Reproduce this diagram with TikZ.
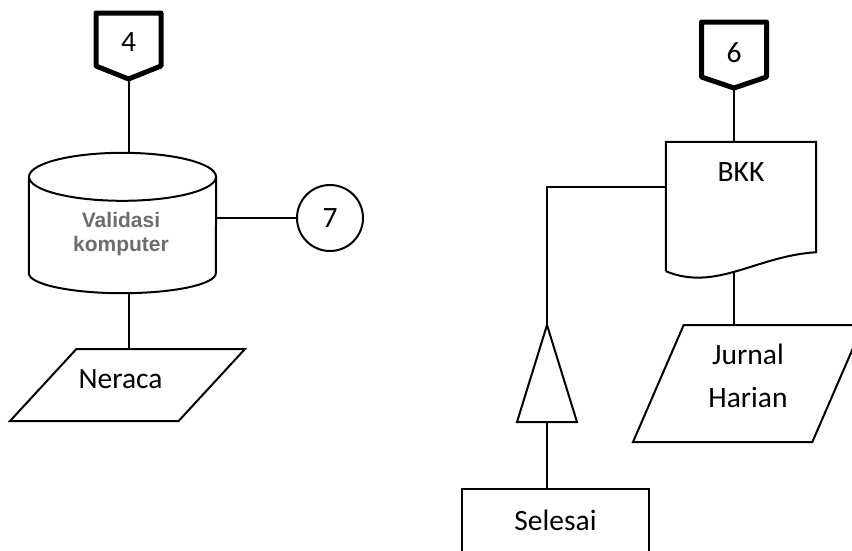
\documentclass[tikz,border=0pt]{standalone}
\usepackage{fontspec}
\setmainfont{Carlito}
\newfontfamily\arialfont{Liberation Sans}
\usetikzlibrary{shapes.geometric,calc}
\definecolor{FlowGray}{HTML}{6D6D6D}

\tikzset{
  flowline/.style={line width=2pt},
  offpage/.style={line width=5pt, line join=round},
  iobox/.style={flowline, draw, trapezium, trapezium stretches=true, inner sep=2pt},
  conncircle/.style={flowline, draw, circle, minimum size=66pt, inner sep=0pt},
  procbox/.style={flowline, draw, minimum width=187pt, inner sep=0pt},
  dbtext/.style={font=\arialfont\bfseries\fontsize{21}{24.5}\selectfont, text=FlowGray, align=center}
}

\begin{document}
\begin{tikzpicture}[x=1pt,y=-1pt,font=\fontsize{29.5}{36}\selectfont]
  \useasboundingbox (0,0) rectangle (852,550);

  % left column: connector 4, database, output
  \node[inner sep=0pt] (c4) at (128.5,42.5) {4};
  \draw[offpage] (c4) ++(-32.5,-29.5) -- ++(65,0) -- ++(0,53)
    -- ++(-32.5,13) coordinate (c4tip) -- ++(-32.5,-13) -- cycle;

  \node[minimum width=187pt, minimum height=140pt, inner sep=0pt] (db) at (122.5,223) {};
  \draw[flowline] ([yshift=-24pt]db.north) ellipse [x radius=93.5pt, y radius=24pt];
  \draw[flowline] ([yshift=-24pt]db.north west) -- ([yshift=20pt]db.south west)
    arc[start angle=180, end angle=360, x radius=93.5pt, y radius=20pt]
    -- ([yshift=-24pt]db.north east);
  \node[dbtext] (dblab) at (121,234) {Validasi\\komputer};

  \node[conncircle] (c7) at (330,218) {7};

  \node[iobox, trapezium left angle=57, trapezium right angle=123,
        minimum width=235pt, minimum height=72pt] (ner) at (127.5,385) {};
  \node (nerlab) at ([xshift=-7pt,yshift=6pt]ner.center) {Neraca};

  \draw[flowline] (c4tip) -- (c4tip |- db.north);
  \draw[flowline] (c7.west -| db.east) -- (c7.west);
  \draw[flowline] (db.south -| c4tip) -- (ner.north -| c4tip);

  % right column: connector 6, document, journal, archive
  \node[inner sep=0pt] (c6) at (734,52.5) {6};
  \draw[offpage] (c6) ++(-32.5,-30.5) -- ++(65,0) -- ++(0,55)
    -- ++(-32.5,11) coordinate (c6tip) -- ++(-32.5,-11) -- cycle;

  \node[minimum width=150pt, minimum height=129pt, inner sep=0pt] (bkk) at (741,206.5) {};
  \draw[flowline] (bkk.south west) -- (bkk.north west) -- (bkk.north east)
    -- ([yshift=19pt]bkk.south east) .. controls (756,256) and (716,292) .. (bkk.south west);
  \node (bkklab) at ([yshift=-30pt]bkk.north) {BKK};

  \node[iobox, trapezium left angle=68.5, trapezium right angle=111.5,
        minimum width=230pt, minimum height=117pt] (jur) at (748,383.5) {};
  \node[align=center, font=\fontsize{29.5}{43}\selectfont] (jurlab)
    at ([yshift=8pt]jur.center) {Jurnal\\Harian};

  \coordinate (arsip) at (547,325);
  \coordinate (arsipbase) at ([yshift=-97pt]arsip);
  \draw[flowline, line join=miter] (arsip) -- ++(30,97) -- ++(-60,0) -- cycle;

  \node[procbox, text height=41pt, text depth=40pt, anchor=north] (sel) at (555.5,488) {Selesai};

  \draw[flowline] (c6tip) -- (c6tip |- bkk.north);
  \draw[flowline] (c6tip |- bkk.south) -- (c6tip |- jur.north);
  \draw[flowline] ([yshift=19.5pt]bkk.west) -| (arsip);
  \draw[flowline] (arsipbase) -- (arsipbase |- sel.north);
\end{tikzpicture}
\end{document}
